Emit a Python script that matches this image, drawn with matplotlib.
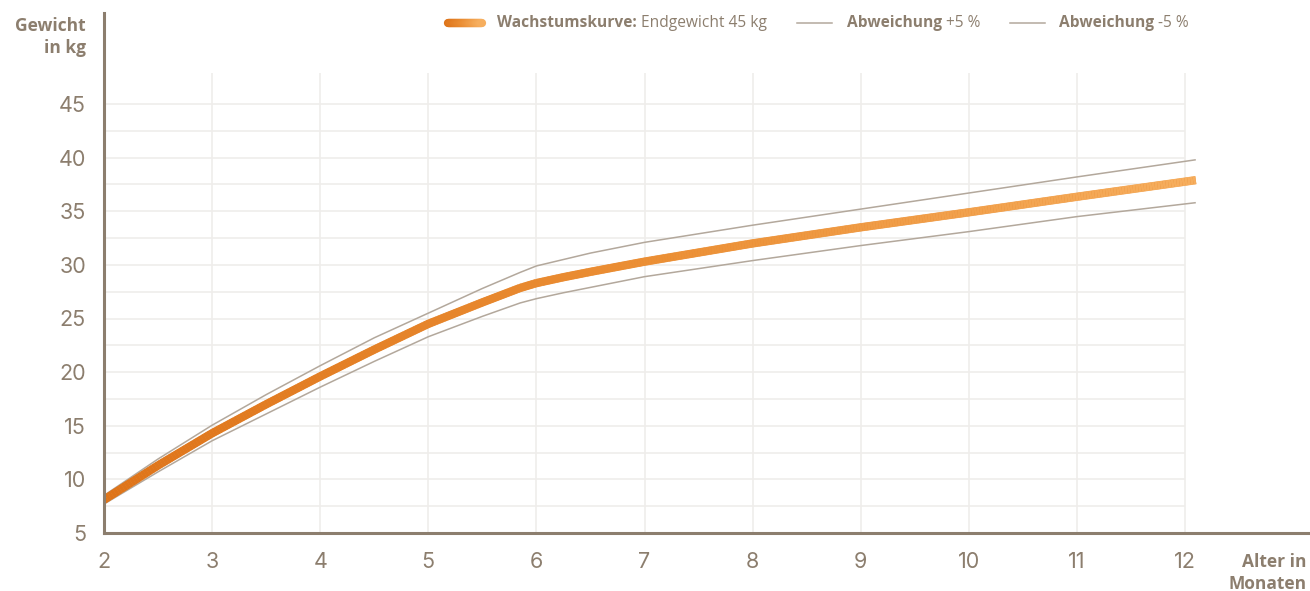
import numpy as np
import matplotlib
matplotlib.use("Agg")
import matplotlib.pyplot as plt
from matplotlib.collections import LineCollection
from matplotlib.colors import LinearSegmentedColormap
from matplotlib.lines import Line2D

# ---------------- data ----------------
months = [2, 2.5, 3, 3.5, 4, 4.5, 5, 5.5, 5.85, 6, 6.25, 6.5, 7, 8, 9, 10, 11, 12.1]
weight = [8.1, 11.3, 14.3, 17.0, 19.6, 22.1, 24.5, 26.5, 27.85, 28.3, 28.85, 29.35, 30.3,
          32.0, 33.5, 34.9, 36.35, 37.9]
upper = [8.5, 11.9, 15.05, 17.9, 20.6, 23.2, 25.5, 27.8, 29.3, 29.9, 30.5, 31.1, 32.1,
         33.7, 35.2, 36.7, 38.2, 39.8]
lower = [7.7, 10.7, 13.6, 16.1, 18.6, 21.0, 23.3, 25.2, 26.45, 26.85, 27.4, 27.9, 28.9,
         30.4, 31.8, 33.1, 34.5, 35.8]
x_ticks = [2, 3, 4, 5, 6, 7, 8, 9, 10, 11, 12]
y_ticks = [5, 10, 15, 20, 25, 30, 35, 40, 45]
y_grid = [7.5, 10, 12.5, 15, 17.5, 20, 22.5, 25, 27.5, 30, 32.5, 35, 37.5, 40, 42.5, 45]

TXT = "#8C7E6E"
GRID = "#EFEDEB"
THIN = "#B3A89C"
cmap = LinearSegmentedColormap.from_list("grad", ["#DE741A", "#EB8F35", "#F6AE5E"])

W, H = 1310, 591
fig = plt.figure(figsize=(W / 100, H / 100), dpi=100)


def fx(px):
    return px / W


def fy(py):
    return 1 - py / H


ax = fig.add_axes([fx(104), fy(533), fx(1310) - fx(104), fy(13) - fy(533)])
ax.set_xlim(2, 2 + (1310 - 104) / 108.1)
ax.set_ylim(5, 5 + (533 - 13) / 10.725)

for s in ("top", "right"):
    ax.spines[s].set_visible(False)
for s in ("left", "bottom"):
    ax.spines[s].set_color(TXT)
    ax.spines[s].set_linewidth(2.2)
    ax.spines[s].set_zorder(5)

ax.set_xticks(x_ticks)
ax.set_xticklabels([str(v) for v in x_ticks])
ax.set_yticks(y_ticks)
ax.set_yticklabels([str(v) for v in y_ticks])
ax.tick_params(axis="both", length=0, labelcolor=TXT, labelsize=15.5)
ax.tick_params(axis="y", pad=13)
ax.tick_params(axis="x", pad=14)
for lab in ax.get_xticklabels() + ax.get_yticklabels():
    lab.set_fontfamily("Inter")

# grid
ax.vlines(x_ticks, 5, 47.9, color=GRID, lw=1.2, zorder=0)
ax.hlines(y_grid, 2, 12, color=GRID, lw=1.2, zorder=0)

# deviation lines
ax.plot(months, upper, color=THIN, lw=1.1, zorder=2, solid_capstyle="butt")
ax.plot(months, lower, color=THIN, lw=1.1, zorder=2, solid_capstyle="butt")

# main gradient line (subdivide polyline only for colour gradient)
fine_x = np.linspace(months[0], months[-1], 400)
fine_y = np.interp(fine_x, months, weight)
base_c = cmap((fine_x - months[0]) / (months[-1] - months[0]))
ax.plot(months, weight, color="#EA8C33", lw=5.6, zorder=3, solid_capstyle="butt",
        solid_joinstyle="round")
pts = np.column_stack([fine_x, fine_y]).reshape(-1, 1, 2)
segs = np.concatenate([pts[:-1], pts[1:]], axis=1)
tvals = (fine_x[:-1] - months[0]) / (months[-1] - months[0])
lc = LineCollection(segs, colors=cmap(tvals), linewidths=6.0, capstyle="butt",
                    joinstyle="round", zorder=4)
ax.add_collection(lc)

# axis titles
fig.text(fx(86), fy(37), "Gewicht\nin kg", ha="right", va="center", multialignment="right",
         color=TXT, fontsize=12.5, fontweight="bold", family="Open Sans", linespacing=1.35)
fig.text(fx(1307), fy(573), "Alter in\nMonaten", ha="right", va="center", multialignment="right",
         color=TXT, fontsize=12.5, fontweight="bold", family="Open Sans", linespacing=1.35)

# legend
ly = fy(23)
px = np.linspace(448, 482, 60)
lpts = np.column_stack([fx(px), np.full_like(px, ly)]).reshape(-1, 1, 2)
lsegs = np.concatenate([lpts[:-1], lpts[1:]], axis=1)
llc = LineCollection(lsegs, colors=cmap(np.linspace(0, 1, len(lsegs))), linewidths=6.0,
                     capstyle="round", transform=fig.transFigure)
fig.add_artist(llc)

fig.add_artist(Line2D([fx(797), fx(832)], [ly, ly], color=THIN, lw=1.1, transform=fig.transFigure))
fig.add_artist(Line2D([fx(1010), fx(1045)], [ly, ly], color=THIN, lw=1.1, transform=fig.transFigure))

fig.canvas.draw()
renderer = fig.canvas.get_renderer()


def legend_text(x0, bold, rest):
    t1 = fig.text(fx(x0), ly, bold, ha="left", va="center", color=TXT, fontsize=11.2,
                  fontweight="bold", family="Open Sans")
    bb = t1.get_window_extent(renderer=renderer)
    fig.text((bb.x1 + 4) / W, ly, rest, ha="left", va="center", color=TXT, fontsize=11.2,
             family="Open Sans")


legend_text(497, "Wachstumskurve:", "Endgewicht 45 kg")
legend_text(847, "Abweichung", "+5 %")
legend_text(1059, "Abweichung", "-5 %")

fig.savefig("out.png", dpi=100)
